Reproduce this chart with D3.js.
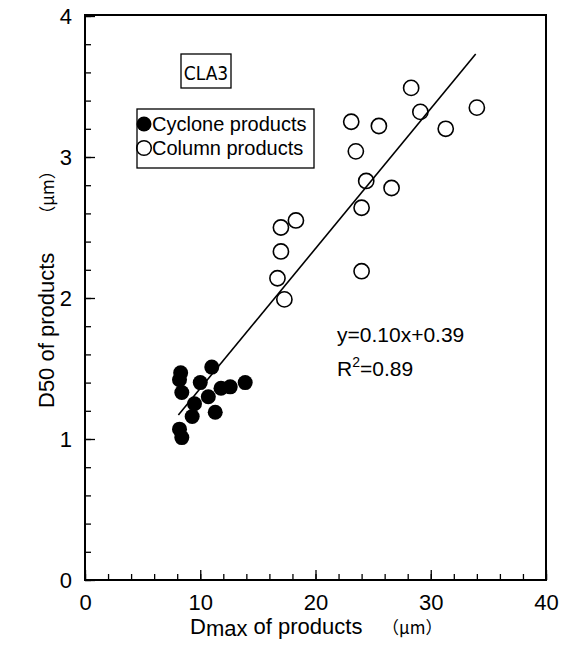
<!doctype html>
<html>
<head>
  <meta charset="utf-8">
  <script src="https://d3js.org/d3.v7.min.js"></script>
  <style>
    body { margin: 0; background: #fff; }
    text { font-family: Arial, "Liberation Sans", sans-serif; fill: #000; }
  </style>
</head>
<body>
<script>
  // cyclone products (filled)
  var cycloneX = [8.3, 8.2, 8.4, 10.0, 11.0, 10.7, 9.5, 9.3, 11.3, 11.8, 12.6, 13.9, 8.2, 8.4];
  var cycloneY = [1.47, 1.42, 1.33, 1.40, 1.51, 1.30, 1.25, 1.16, 1.19, 1.36, 1.37, 1.40, 1.07, 1.01];

  // column products (open)
  var columnX = [28.3, 29.1, 34.0, 31.3, 23.1, 25.5, 23.5, 24.4, 26.6, 24.0, 18.3, 17.0, 17.0, 16.7, 17.3, 24.0];
  var columnY = [3.49, 3.32, 3.35, 3.20, 3.25, 3.22, 3.04, 2.83, 2.78, 2.64, 2.55, 2.50, 2.33, 2.14, 1.99, 2.19];

  // fitted line as drawn
  var fitX = [8.1, 33.9];
  var fitY = [1.17, 3.73];

  var xTicks = [0, 10, 20, 30, 40];
  var yTicks = [0, 1, 2, 3, 4];

  var svg = d3.select("body").append("svg")
      .attr("width", 573)
      .attr("height", 653);

  var x = d3.scaleLinear().domain([0, 40]).range([85, 546]);
  var y = d3.scaleLinear().domain([0, 4]).range([580, 16]);

  // minor ticks
  svg.append("g")
      .attr("transform", "translate(0,580)")
      .call(d3.axisBottom(x).tickValues(d3.range(0, 41, 2)).tickSizeInner(-6).tickSizeOuter(0).tickFormat(""))
      .call(function (g) { g.select(".domain").remove(); });
  svg.append("g")
      .attr("transform", "translate(85,0)")
      .call(d3.axisLeft(y).tickValues(d3.range(0, 4.01, 0.2)).tickSizeInner(-6).tickSizeOuter(0).tickFormat(""))
      .call(function (g) { g.select(".domain").remove(); });

  // major ticks + labels
  var xAxis = svg.append("g")
      .attr("transform", "translate(0,580)")
      .call(d3.axisBottom(x).tickValues(xTicks).tickSizeInner(-10).tickSizeOuter(0).tickPadding(14).tickFormat(d3.format("d")));
  xAxis.select(".domain").remove();
  xAxis.selectAll("text").attr("font-size", 22).attr("font-family", "Arial, 'Liberation Sans', sans-serif");

  var yAxis = svg.append("g")
      .attr("transform", "translate(85,0)")
      .call(d3.axisLeft(y).tickValues(yTicks).tickSizeInner(-10).tickSizeOuter(0).tickPadding(13).tickFormat(d3.format("d")));
  yAxis.select(".domain").remove();
  yAxis.selectAll("text").attr("font-size", 22).attr("font-family", "Arial, 'Liberation Sans', sans-serif");

  svg.selectAll(".tick line").attr("stroke", "#000").attr("stroke-width", 1.3);

  // frame
  svg.append("rect")
      .attr("x", 85).attr("y", 15)
      .attr("width", 461).attr("height", 565)
      .attr("fill", "none")
      .attr("stroke", "#000")
      .attr("stroke-width", 2);

  // fit line
  svg.append("line")
      .attr("x1", x(fitX[0])).attr("y1", y(fitY[0]))
      .attr("x2", x(fitX[1])).attr("y2", y(fitY[1]))
      .attr("stroke", "#000")
      .attr("stroke-width", 1.6);

  // points
  svg.selectAll(".col")
      .data(d3.zip(columnX, columnY))
      .enter().append("circle")
      .attr("cx", function (d) { return x(d[0]); })
      .attr("cy", function (d) { return y(d[1]); })
      .attr("r", 7.6)
      .attr("fill", "none")
      .attr("stroke", "#000")
      .attr("stroke-width", 1.6);

  svg.selectAll(".cyc")
      .data(d3.zip(cycloneX, cycloneY))
      .enter().append("circle")
      .attr("cx", function (d) { return x(d[0]); })
      .attr("cy", function (d) { return y(d[1]); })
      .attr("r", 7.5)
      .attr("fill", "#000");

  // CLA3 label
  svg.append("rect")
      .attr("x", 181).attr("y", 54).attr("width", 50).attr("height", 34)
      .attr("fill", "none").attr("stroke", "#000").attr("stroke-width", 1.3);
  svg.append("text")
      .attr("x", 206).attr("y", 80)
      .attr("text-anchor", "middle")
      .attr("font-size", 19)
      .style("font-family", "'Liberation Sans Narrow', 'DejaVu Sans Condensed', 'Liberation Sans', sans-serif")
      .text("CLA3");

  // legend
  svg.append("rect")
      .attr("x", 137).attr("y", 109).attr("width", 177).attr("height", 59)
      .attr("fill", "none").attr("stroke", "#000").attr("stroke-width", 1.3);
  svg.append("circle").attr("cx", 144).attr("cy", 124).attr("r", 7.5).attr("fill", "#000");
  svg.append("circle").attr("cx", 144).attr("cy", 148).attr("r", 7.3)
      .attr("fill", "none").attr("stroke", "#000").attr("stroke-width", 1.5);
  svg.append("text").attr("x", 152).attr("y", 131).attr("font-size", 20).text("Cyclone products");
  svg.append("text").attr("x", 152).attr("y", 155).attr("font-size", 20).text("Column products");

  // equation
  svg.append("text").attr("x", 337).attr("y", 342).attr("font-size", 21).text("y=0.10x+0.39");
  var r2 = svg.append("text").attr("x", 337).attr("y", 376).attr("font-size", 21);
  r2.append("tspan").text("R");
  r2.append("tspan").attr("font-size", 14).attr("dy", -9).text("2");
  r2.append("tspan").attr("dy", 9).text("=0.89");

  // axis titles
  var xt = svg.append("text").attr("x", 190).attr("y", 634).attr("font-size", 22);
  xt.append("tspan").text("D");
  xt.append("tspan").attr("dy", 2).text("max");
  xt.append("tspan").attr("dy", -2).text(" of products");
  xt.append("tspan").attr("x", 382).attr("font-size", 17)
      .style("font-family", "'Noto Sans CJK JP', sans-serif")
      .text("（μm）");

  var yt = svg.append("text")
      .attr("transform", "translate(54,408) rotate(-90)")
      .attr("font-size", 22);
  yt.append("tspan").text("D50 of products");
  yt.append("tspan").attr("dx", 30).attr("font-size", 17)
      .style("font-family", "'Noto Sans CJK JP', sans-serif")
      .text("（μm）");
</script>
</body>
</html>
